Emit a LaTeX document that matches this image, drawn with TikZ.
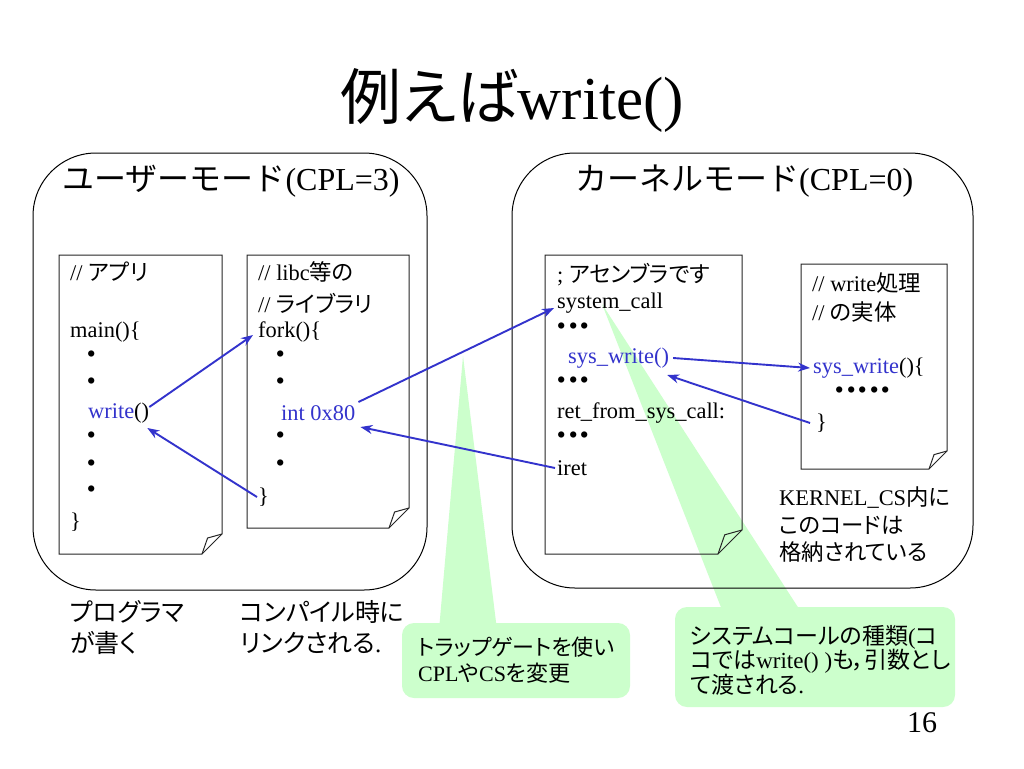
\documentclass[tikz,border=0pt]{standalone}
\usepackage{fontspec}
\setmainfont{Liberation Serif}
\newfontfamily\jp[RawFeature=+palt]{Noto Sans CJK JP}
\newfontfamily\jpf{Noto Sans CJK JP}
\usetikzlibrary{arrows.meta,calc}
\definecolor{myblue}{RGB}{51,51,204}
\definecolor{calgreen}{RGB}{204,255,204}
\newcommand\J[1]{{\jp #1}}
\newcommand\JF[1]{{\jpf #1}}
\newcommand\fsz[1]{\fontsize{#1pt}{#1pt}\selectfont}
\newcommand\dt{\makebox[11.5pt]{\jp\bfseries ・}}
\newcommand\mydoc[5]{%
  \draw[docline] (#1,#2) -- (#3,#2) -- (#3,#4-#5) -- (#3-#5,#4) -- (#1,#4) -- cycle;
  \draw[docline] (#3-#5,#4) .. controls (#3-0.9*#5,#4-0.4*#5) .. (#3-0.72*#5,#4-0.8*#5) -- (#3,#4-#5);}
\tikzset{
  code/.style={anchor=west, inner sep=0pt, font=\fsz{22.4}},
  dotc/.style={anchor=center, inner sep=0pt, font=\fsz{22.4}\jp\bfseries},
  blu/.style={text=myblue},
  hdr/.style={anchor=west, inner sep=0pt, font=\fsz{32}},
  big/.style={anchor=west, inner sep=0pt, font=\fsz{25}},
  ctext/.style={anchor=west, inner sep=0pt, font=\fsz{22}},
  ctextb/.style={anchor=west, inner sep=0pt, font=\fsz{23}},
  arr/.style={draw=myblue, line width=1.9pt, -{Stealth[length=12pt,width=9pt]}},
  docline/.style={draw=black!85, line width=1pt},
  modebox/.style={draw=black, line width=1pt, rounded corners=63pt},
  callbox/.style={fill=calgreen, rounded corners=12pt},
}
\begin{document}
\begin{tikzpicture}[x=1pt,y=-1pt]
\useasboundingbox (0,0) rectangle (1024,768);
\fill[white] (0,0) rectangle (1024,768);

% callouts (behind everything)
\coordinate (tip1) at (463,356);
\fill[calgreen] (tip1) -- (497,630) -- (439,630) -- cycle;
\fill[callbox] (402,623) rectangle (630,698);
\coordinate (tip2) at (602,304);
\fill[calgreen] (tip2) -- (803,615) -- (724,615) -- cycle;
\fill[callbox] (675,607) rectangle (955,707);

% mode boxes
\draw[modebox] (33,153) rectangle (427,590);
\draw[modebox] (512,153) rectangle (973,588);

% title and headers
\node[anchor=west, inner sep=0pt, font=\fsz{61}] (title) at (340,100) {\J{例えば}write()};
\node[hdr] (umode) at (62,181) {\JF{ユーザーモード}(CPL=3)};
\node[hdr] (kmode) at (575,181) {\JF{カーネルモード}(CPL=0)};

% documents
\mydoc{59}{255}{222}{554}{20}
\mydoc{247}{255}{409}{528}{20}
\mydoc{545}{255}{742}{554}{24}
\mydoc{801}{264}{947}{469}{18}

% doc1
\node[code] (a0) at (70,272) {// \J{アプリ}};
\node[code] (a1) at (70,332) {main()\{};
\node[dotc] (a2) at (92,357) {・};
\node[dotc] (a3) at (92,384) {・};
\node[code] (wr) at (88,413) {\textcolor{myblue}{write}()};
\node[dotc] (a5) at (92,438) {・};
\node[dotc] (a6) at (92,466) {・};
\node[dotc] (a7) at (92,492) {・};
\node[code] (a8) at (70,522) {\}};

% doc2
\node[code] (b0) at (258,272) {// libc\J{等の}};
\node[code] (b1) at (258,303) {// \J{ライブラリ}};
\node[code] (fk) at (258,332) {fork()\{};
\node[dotc] (b3) at (281,357) {・};
\node[dotc] (b4) at (281,384) {・};
\node[code,blu] (int) at (281,413) {int 0x80};
\node[dotc] (b6) at (281,438) {・};
\node[dotc] (b7) at (281,466) {・};
\node[code] (b8) at (258,497) {\}};

% doc3
\node[code] (c0) at (557,275) {; \J{アセンブラです}};
\node[code] (sc) at (557,303) {system\_call};
\node[code] (c2) at (556,329) {\dt\dt\dt};
\node[code,blu] (sw) at (568,358) {sys\_write()};
\node[code] (c4) at (556,383) {\dt\dt\dt};
\node[code] (c5) at (557,413) {ret\_from\_sys\_call:};
\node[code] (c6) at (556,438) {\dt\dt\dt};
\node[code] (ir) at (557,468) {iret};

% doc4
\node[code] (d0) at (812,283) {// write\J{処理}};
\node[code] (d1) at (812,312) {// \J{の実体}};
\node[code] (sw2) at (813,368) {\textcolor{myblue}{sys\_write}()\{};
\node[code] (d3) at (834,393) {\dt\dt\dt\dt\dt};
\node[code] (d4) at (816,423) {\}};

% kernel note
\node[code] (k0) at (779,498) {KERNEL\_CS\J{内に}};
\node[code] (k1) at (779,525) {\J{このコードは}};
\node[code] (k2) at (779,552) {\J{格納されている}};

% bottom notes
\node[big] (p0) at (70,612) {\J{プログラマ}};
\node[big] (p1) at (70,643) {\J{が書く}};
\node[big] (q0) at (240,612) {\J{コンパイル時に}};
\node[big] (q1) at (240,643) {\J{リンクされる}.};

% callout texts
\node[ctext] (t0) at (418,647) {\J{トラップゲートを使い}};
\node[ctext] (t1) at (418,673) {CPL\J{や}CS\J{を変更}};
\node[ctextb] (s0) at (690,637) {\J{システムコールの種類}(\J{コ}};
\node[ctextb] (s1) at (690,661) {\J{コでは}write() )\J{も，引数とし}};
\node[ctextb] (s2) at (690,685) {\J{て渡される}.};

\node[anchor=center, inner sep=0pt, font=\fsz{30}] (pg) at (922,723) {16};

% arrows
\draw[arr] ([yshift=6pt]wr.east) -- ([xshift=-5pt,yshift=-3pt]fk.west);
\draw[arr] ([xshift=-1pt]b8.west) -- ([xshift=-2pt,yshift=-15pt]wr.east);
\draw[arr] ([xshift=3pt,yshift=11pt]int.east) -- ([xshift=-3pt,yshift=-5pt]sc.west);
\draw[arr] ([xshift=-2pt]ir.west) -- ([xshift=5pt,yshift=-14pt]int.east);
\draw[arr] ([xshift=4pt]sw.east) -- ([xshift=-3pt]sw2.west);
\draw[arr] ([xshift=-6pt]d4.west) -- ([xshift=-2pt,yshift=-17pt]sw.east);
\end{tikzpicture}
\end{document}
